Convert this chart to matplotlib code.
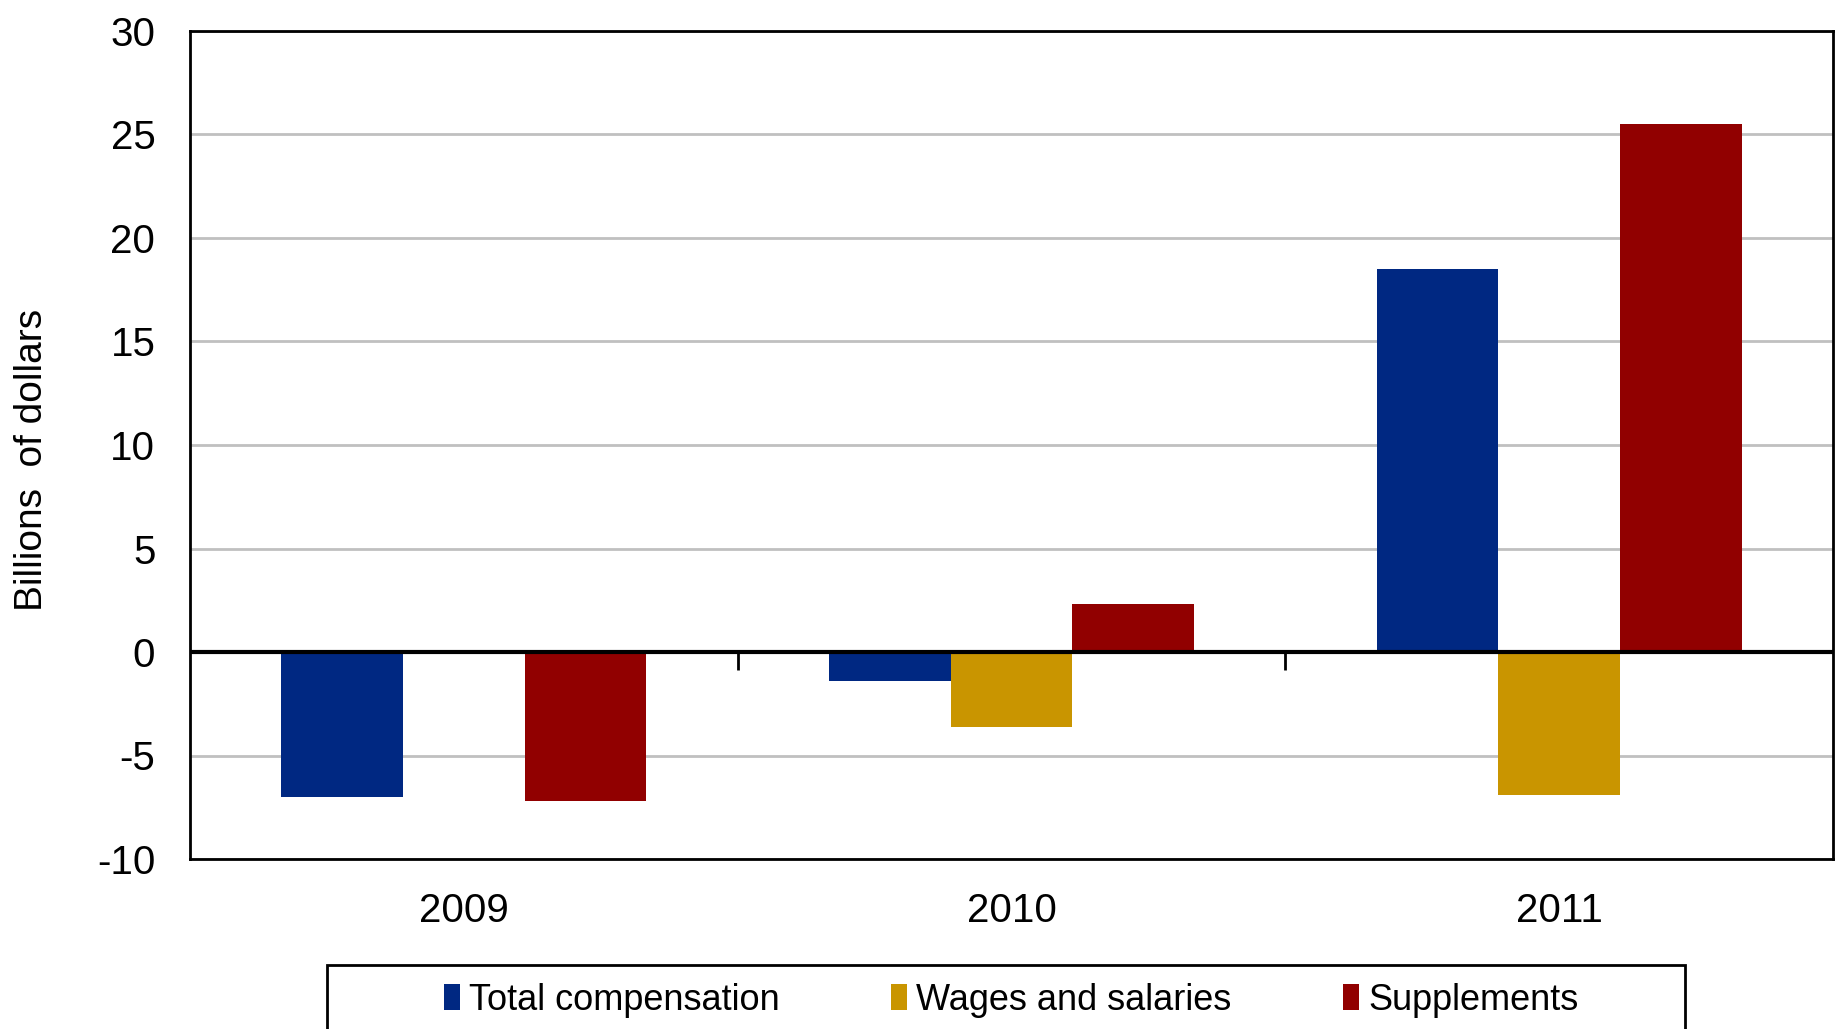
import numpy as np
import matplotlib
matplotlib.use('Agg')
import matplotlib.pyplot as plt
from matplotlib.patches import Rectangle

# データ
years = ['2009', '2010', '2011']
total_comp = [-7.0, -1.4, 18.5]
wages = [0.0, -3.6, -6.9]
supplements = [-7.2, 2.3, 25.5]

series_names = ['Total compensation', 'Wages and salaries', 'Supplements']
colors = ['#002882', '#C99500', '#910000']

plt.rcParams['font.family'] = ['Liberation Sans', 'DejaVu Sans']
plt.rcParams['axes.unicode_minus'] = False

W, H = 1835, 1029
fig = plt.figure(figsize=(W / 100, H / 100), dpi=100)
ax = fig.add_axes([190 / W, 1 - 859 / H, (1833 - 190) / W, (859 - 31) / H])

x = np.arange(len(years))
bw = 1 / 4.5
for i, (vals, name, c) in enumerate(zip([total_comp, wages, supplements], series_names, colors)):
    ax.bar(x + (i - 1) * bw, vals, width=bw, color=c, label=name, zorder=3)

ax.set_xlim(-0.5, 2.5)
ax.set_ylim(-10, 30)
ax.set_yticks(np.arange(-10, 31, 5))
ax.yaxis.grid(True, color='#c0c0c0', linewidth=2, zorder=0)
ax.set_xticks(x)
ax.set_xticklabels(years)
ax.tick_params(axis='both', length=0, labelsize=29)
ax.tick_params(axis='y', pad=25)
ax.tick_params(axis='x', pad=24)
for s in ax.spines.values():
    s.set_linewidth(2)
    s.set_color('black')

# ゼロ線と区切り目盛
ax.axhline(0, color='black', linewidth=3, zorder=4)
sec = ax.secondary_xaxis(0.25)
sec.set_xticks([0.5, 1.5])
sec.set_xticklabels([])
sec.tick_params(length=13, width=2, direction='out')
sec.spines['bottom'].set_visible(False)

fig.text(32 / W, 1 - 460 / H, 'Billions  of dollars', rotation=90,
         ha='center', va='center', fontsize=28)

# 凡例
fig.patches.append(Rectangle((327 / W, -0.05), (1685 - 327) / W, 0.05 + 1 - 965 / H,
                             transform=fig.transFigure, fill=False,
                             edgecolor='black', linewidth=2))
handles, labels = ax.get_legend_handles_labels()
fig.legend(handles, labels, loc='center', bbox_to_anchor=(1011 / W, 1 - 1000 / H),
           ncol=3, frameon=False, handlelength=0.45, handleheight=0.75,
           handletextpad=0.25, columnspacing=3.08, fontsize=26)

plt.savefig('out.png', dpi=100)
